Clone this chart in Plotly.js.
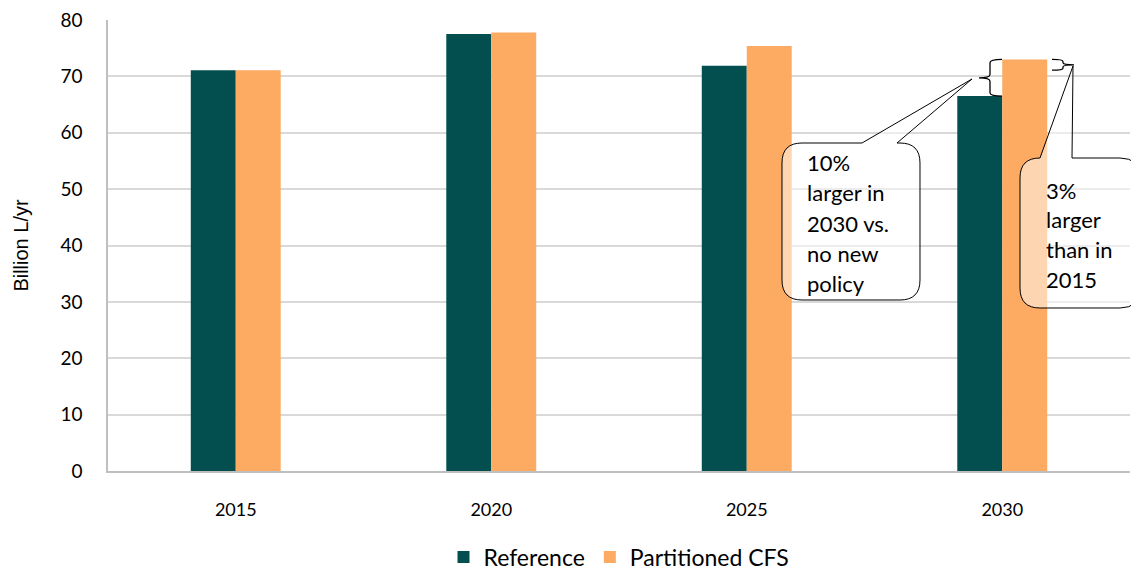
<!DOCTYPE html>
<html>
<head>
<meta charset="utf-8">
<script src="https://cdn.plot.ly/plotly-3.0.1.min.js"></script>
<style>html,body{margin:0;padding:0;background:#fff;}#chart{width:1131px;height:571px;}</style>
</head>
<body>
<div id="chart"></div>
<script>
// ---- data ----
var years = ["2015", "2020", "2025", "2030"];
var reference = [71.1, 77.5, 71.9, 66.5];
var partitionedCFS = [71.1, 77.8, 75.4, 73.0];
var seriesNames = ["Reference", "Partitioned CFS"];
var yTicks = [0, 10, 20, 30, 40, 50, 60, 70, 80];
var callout1 = ["10%", "larger in", "2030 vs.", "no new", "policy"];
var callout2 = ["3%", "larger", "than in", "2015"];

// ---- layout geometry (pixels) ----
var W = 1131, H = 571, L = 108, R = 1, T = 20, B = 100;
var PW = W - L - R, PH = H - T - B;
function px(x) { return (x - L) / PW; }
function py(y) { return (H - B - y) / PH; }
function P(x, y) { return px(x).toFixed(5) + "," + py(y).toFixed(5); }

var teal = "#034f4f", orange = "#fdaa63";

var traces = [
  {type: "bar", name: seriesNames[0], x: years, y: reference, marker: {color: teal}},
  {type: "bar", name: seriesNames[1], x: years, y: partitionedCFS, marker: {color: orange}}
];

// curly brace with x in paper, y in data
function brace(xEnd, xSpine, xTip, yTop, yBot, d) {
  var ym = (yTop + yBot) / 2;
  var a = px(xEnd).toFixed(5), s = px(xSpine).toFixed(5), t = px(xTip).toFixed(5);
  return "M" + a + "," + yTop +
    " Q" + s + "," + yTop + " " + s + "," + (yTop - d) +
    " L" + s + "," + (ym + d) +
    " Q" + s + "," + ym + " " + t + "," + ym +
    " Q" + s + "," + ym + " " + s + "," + (ym - d) +
    " L" + s + "," + (yBot + d) +
    " Q" + s + "," + yBot + " " + a + "," + yBot;
}

var box1 = "M" + P(802,143) + " L" + P(862,143) + " L" + P(972,79) + " L" + P(897,143) +
  " L" + P(900,143) + " Q" + P(920,143) + " " + P(920,163) + " L" + P(920,280) +
  " Q" + P(920,300) + " " + P(900,300) + " L" + P(802,300) + " Q" + P(782,300) + " " + P(782,280) +
  " L" + P(782,163) + " Q" + P(782,143) + " " + P(802,143) + " Z";
var box2 = "M" + P(1040,158) + " L" + P(1073,66) + " L" + P(1072,158) + " L" + P(1120,158) +
  " Q" + P(1140,158) + " " + P(1140,178) + " L" + P(1140,288) + " Q" + P(1140,308) + " " + P(1120,308) +
  " L" + P(1040,308) + " Q" + P(1020,308) + " " + P(1020,288) + " L" + P(1020,178) +
  " Q" + P(1020,158) + " " + P(1040,158) + " Z";

var shapes = [
  {type: "path", xref: "paper", yref: "y", path: brace(1002, 990, 979, partitionedCFS[3], reference[3], 0.6),
   line: {color: "#000", width: 1.3}},
  {type: "path", xref: "paper", yref: "y", path: brace(1052, 1063, 1074, partitionedCFS[3], partitionedCFS[0], 0.35),
   line: {color: "#000", width: 1.3}},
  {type: "path", xref: "paper", yref: "paper", path: box1, fillcolor: "rgba(255,255,255,0.5)", line: {color: "#000", width: 1}},
  {type: "path", xref: "paper", yref: "paper", path: box2, fillcolor: "rgba(255,255,255,0.5)", line: {color: "#000", width: 1}}
];

var annotations = [];
var c1y = [163, 193, 224, 254, 283];
callout1.forEach(function (t, i) {
  annotations.push({xref: "paper", yref: "paper", x: px(805), y: py(c1y[i]), xanchor: "left", yanchor: "middle",
    text: t, showarrow: false, font: {family: "Lato, sans-serif", size: 22, color: "#000"}});
});
var c2y = [190, 219, 249, 280];
callout2.forEach(function (t, i) {
  annotations.push({xref: "paper", yref: "paper", x: px(1044), y: py(c2y[i]), xanchor: "left", yanchor: "middle",
    text: t, showarrow: false, font: {family: "Lato, sans-serif", size: 22, color: "#000"}});
});

var layout = {
  width: W, height: H,
  margin: {l: L, r: R, t: T, b: B, pad: 0, autoexpand: false},
  paper_bgcolor: "#fff", plot_bgcolor: "#fff",
  barmode: "group", bargap: 0.648, bargroupgap: 0,
  showlegend: true,
  legend: {orientation: "h", x: 0.5, xanchor: "center", y: py(557), yanchor: "middle",
    font: {family: "Lato, sans-serif", size: 23, color: "#000"}, itemwidth: 30, traceorder: "normal"},
  xaxis: {type: "category", showline: true, linecolor: "#bfbfbf", linewidth: 1.5, ticks: "",
    showgrid: false, ticklabelstandoff: 22,
    tickfont: {family: "Lato, sans-serif", size: 18, color: "#000"}},
  yaxis: {range: [0, 80], tickvals: yTicks, ticktext: yTicks.map(String), showgrid: true, gridcolor: "#d9d9d9", gridwidth: 1.5,
    showline: true, linecolor: "#bfbfbf", linewidth: 1.5, zeroline: false, ticks: "", ticklabelstandoff: 20,
    tickfont: {family: "Lato, sans-serif", size: 19, color: "#000"},
    title: {text: "Billion L/yr", standoff: 26, font: {family: "Liberation Sans, Arial, sans-serif", size: 20, color: "#000"}}},
  shapes: shapes,
  annotations: annotations
};

Plotly.newPlot("chart", traces, layout, {displayModeBar: false, responsive: false});
</script>
</body>
</html>
